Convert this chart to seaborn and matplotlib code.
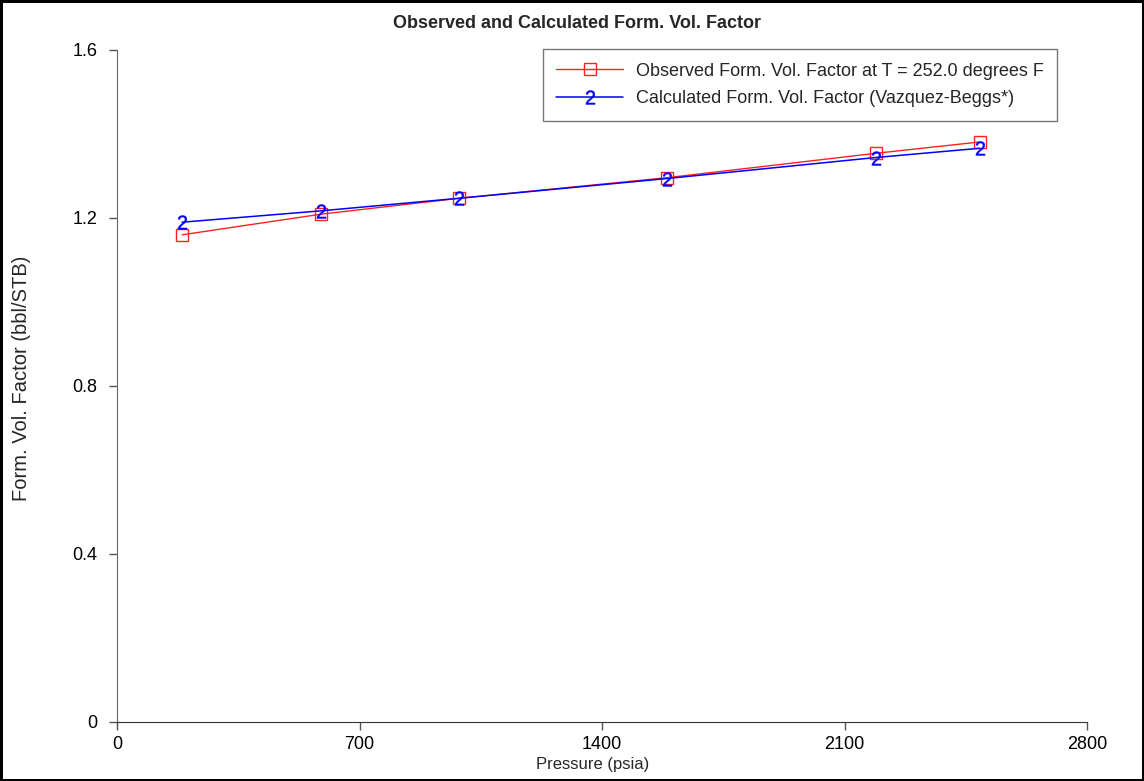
import matplotlib
matplotlib.use("Agg")
import matplotlib.pyplot as plt
import seaborn as sns
import pandas as pd

pressure = [188, 588, 988, 1588, 2190, 2490]
observed = [1.160, 1.209, 1.247, 1.296, 1.354, 1.381]
calculated = [1.190, 1.217, 1.247, 1.294, 1.344, 1.366]
x_ticks = [0, 700, 1400, 2100, 2800]
y_ticks = [0, 0.4, 0.8, 1.2, 1.6]
y_tick_labels = ["0", "0.4", "0.8", "1.2", "1.6"]
label_obs = "Observed Form. Vol. Factor at T = 252.0 degrees F"
label_calc = "Calculated Form. Vol. Factor (Vazquez-Beggs*)"

sns.set_style("white")
plt.rcParams["font.family"] = ["Liberation Sans", "DejaVu Sans"]
plt.rcParams["mathtext.fontset"] = "custom"
plt.rcParams["mathtext.rm"] = "Liberation Sans"
plt.rcParams["mathtext.it"] = "Liberation Sans"
plt.rcParams["mathtext.bf"] = "Liberation Sans"

df_obs = pd.DataFrame({"p": pressure, "b": observed})
df_calc = pd.DataFrame({"p": pressure, "b": calculated})

fig = plt.figure(figsize=(11.44, 7.81), dpi=100)
fig.patch.set_edgecolor("black")
fig.patch.set_linewidth(2.5)
ax = fig.add_axes([117 / 1144, 1 - 722 / 781, (1087 - 117) / 1144, (722 - 50) / 781])

sns.lineplot(data=df_obs, x="p", y="b", ax=ax, color="#ff2020", linewidth=1,
             marker="s", markersize=8.5, markerfacecolor="none",
             markeredgecolor="#ff2020", markeredgewidth=1, label=label_obs)
sns.lineplot(data=df_calc, x="p", y="b", ax=ax, color="#0000ff", linewidth=1.1,
             marker="$2$", markersize=10, markeredgewidth=0.3,
             markeredgecolor="#0000ff", markerfacecolor="#0000ff", label=label_calc)

ax.set_xlim(0, 2800)
ax.set_ylim(0, 1.6)
ax.set_xticks(x_ticks)
ax.set_xticklabels([str(t) for t in x_ticks])
ax.set_yticks(y_ticks)
ax.set_yticklabels(y_tick_labels)
ax.tick_params(axis="both", bottom=True, left=True, direction="out", length=6,
               width=1, colors="#555555", labelcolor="black", labelsize=13, pad=8)
ax.tick_params(axis="x", pad=4)
for s in ["top", "right"]:
    ax.spines[s].set_visible(False)
ax.spines["left"].set_color("#666666")
ax.spines["bottom"].set_color("#333333")

ax.set_xlabel("Pressure (psia)", fontsize=12)
ax.set_ylabel("Form. Vol. Factor (bbl/STB)", fontsize=14.5)
ax.yaxis.set_label_coords(-0.089, 0.512)
ax.xaxis.set_label_coords(0.49, -0.052)

fig.text(577 / 1144, 1 - 23 / 781, "Observed and Calculated Form. Vol. Factor",
         ha="center", va="center", fontsize=13, fontweight="bold")

leg = ax.legend(loc="upper right", bbox_to_anchor=(1057 / 1144, 1 - 49 / 781),
                bbox_transform=fig.transFigure, fontsize=13, frameon=True,
                fancybox=False, handlelength=3.7, borderpad=0.75, borderaxespad=0,
                labelspacing=0.6, handletextpad=0.7)
leg.get_frame().set_edgecolor("#555555")
leg.get_frame().set_linewidth(1)

fig.savefig("out.png", dpi=100, edgecolor=fig.get_edgecolor())
